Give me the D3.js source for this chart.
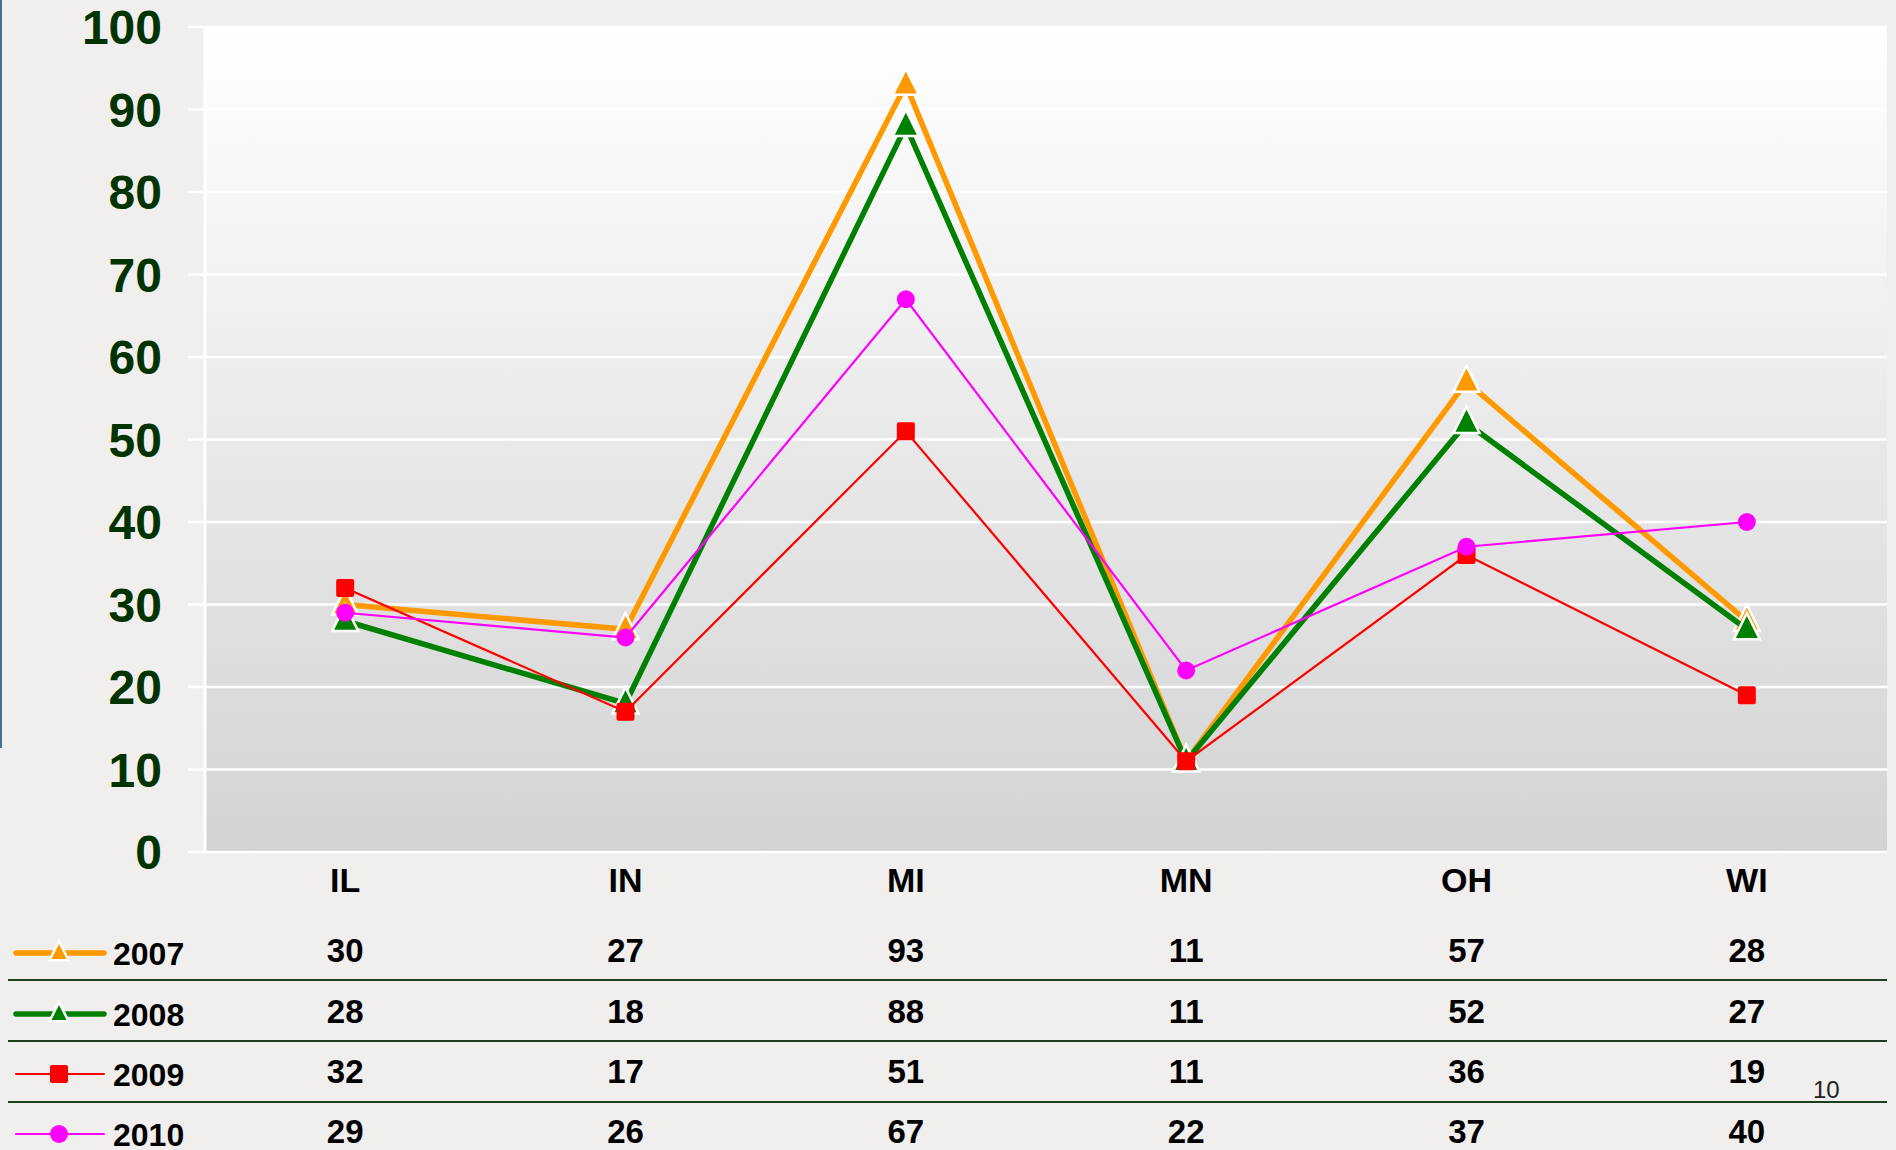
<!DOCTYPE html>
<html><head><meta charset="utf-8">
<script src="https://cdn.jsdelivr.net/npm/d3@7"></script>
<style>html,body{margin:0;padding:0;background:#f0efed;overflow:hidden}svg{display:block}</style>
</head><body>
<script>
const states = ["IL","IN","MI","MN","OH","WI"];
const years = ["2007","2008","2009","2010"];
const v2007 = [30,27,93,11,57,28];
const v2008 = [28,18,88,11,52,27];
const v2009 = [32,17,51,11,36,19];
const v2010 = [29,26,67,22,37,40];
const yTicks = [0,10,20,30,40,50,60,70,80,90,100];
const pageNumber = "10";

(function(){
const series = [
  {name: years[0], values: v2007, color: "#ff9900", width: 5.5, shape: "tri"},
  {name: years[1], values: v2008, color: "#008000", width: 5.5, shape: "tri"},
  {name: years[2], values: v2009, color: "#ff0000", width: 2.2, shape: "sq"},
  {name: years[3], values: v2010, color: "#ff00ff", width: 2.2, shape: "circ"}
];

const W = 1896, H = 1150;
const svg = d3.select("body").append("svg").attr("width", W).attr("height", H);
const font = "'Liberation Sans', Arial, sans-serif";

svg.append("rect").attr("width", W).attr("height", H).attr("fill", "#f0efed");
svg.append("line").attr("x1",1).attr("x2",1).attr("y1",0).attr("y2",748)
  .attr("stroke","#41719c").attr("stroke-width",2);

const pL = 205, pR = 1887, pT = 27, pB = 852;
const x = d3.scaleBand().domain(states).range([pL, pR]);
const y = d3.scaleLinear().domain([0,100]).range([pB, pT]);
const cx = s => x(s) + x.bandwidth()/2;

const defs = svg.append("defs");
const grad = defs.append("linearGradient").attr("id","bg").attr("x1",0).attr("x2",0).attr("y1",0).attr("y2",1);
grad.append("stop").attr("offset","0%").attr("stop-color","#ffffff");
grad.append("stop").attr("offset","100%").attr("stop-color","#d3d3d3");
svg.append("rect").attr("x", pL).attr("y", pT).attr("width", pR-pL).attr("height", pB-pT)
  .attr("fill","url(#bg)");

const ya = svg.append("g").attr("transform",`translate(188,0)`)
  .call(d3.axisLeft(y).tickValues(yTicks).tickSize(0).tickPadding(26).tickFormat(d3.format("d")));
ya.select(".domain").remove();
ya.selectAll("text").attr("font-family", font).attr("font-weight","bold").attr("font-size",48)
  .attr("fill","#003300").attr("dy","0.35em");
svg.append("g").selectAll("line").data(yTicks).join("line")
  .attr("x1",188).attr("x2",pR).attr("y1",d=>y(d)).attr("y2",d=>y(d))
  .attr("stroke","#ffffff").attr("stroke-width",2.5);
svg.append("line").attr("x1",pL).attr("x2",pL).attr("y1",pT).attr("y2",pB)
  .attr("stroke","#ffffff").attr("stroke-width",3);

const xa = svg.append("g").attr("transform",`translate(0,${pB})`)
  .call(d3.axisBottom(x).tickSize(0).tickPadding(16));
xa.select(".domain").remove();
xa.selectAll("text").attr("font-family", font).attr("font-weight","bold").attr("font-size",34)
  .attr("fill","#000").attr("dy","0.71em");

function marker(g, shape, color, size) {
  if (shape === "tri") {
    const s = size;
    g.append("path").attr("d", `M0,${-s*0.62}L${s/2},${s*0.38}L${-s/2},${s*0.38}Z`)
      .attr("fill", color).attr("stroke","#fff").attr("stroke-width",2.5).attr("stroke-linejoin","miter");
  } else if (shape === "sq") {
    g.append("rect").attr("x",-size/2).attr("y",-size/2).attr("width",size).attr("height",size)
      .attr("rx",2).attr("fill",color);
  } else {
    g.append("circle").attr("r",size/2).attr("fill",color);
  }
}

const line = d3.line().x((d,i)=>cx(states[i])).y(d=>y(d));
series.forEach(s => {
  const g = svg.append("g");
  g.append("path").datum(s.values).attr("d", line).attr("fill","none")
    .attr("stroke", s.color).attr("stroke-width", s.width).attr("stroke-linejoin","miter");
  s.values.forEach((v,i) => {
    const m = g.append("g").attr("transform",`translate(${cx(states[i])},${y(v)})`);
    marker(m, s.shape, s.color, s.shape==="tri" ? 26 : 18);
  });
});

const rowBase = [962, 1023, 1083, 1143];
const sepY = [980, 1041, 1102];
svg.append("g").selectAll("line").data(sepY).join("line")
  .attr("x1",8).attr("x2",pR).attr("y1",d=>d).attr("y2",d=>d)
  .attr("stroke","#1f3d1f").attr("stroke-width",2.2);
series.forEach((s, r) => {
  const g = svg.append("g");
  const ly = rowBase[r] - 9;
  g.append("line").attr("x1",16).attr("x2",104).attr("y1",ly).attr("y2",ly)
    .attr("stroke", s.color).attr("stroke-width", s.shape==="tri" ? 5.5 : 2).attr("stroke-linecap","round");
  const m = g.append("g").attr("transform",`translate(59,${ly})`);
  marker(m, s.shape, s.color, s.shape==="tri" ? 19 : 18);
  g.append("text").attr("x",113).attr("y",rowBase[r]+3).text(s.name)
    .attr("font-family",font).attr("font-weight","bold").attr("font-size",32).attr("fill","#000");
  g.selectAll("text.v").data(s.values).join("text").attr("class","v")
    .attr("x",(d,i)=>cx(states[i])).attr("y",rowBase[r]).attr("text-anchor","middle").text(d=>d)
    .attr("font-family",font).attr("font-weight","bold").attr("font-size",33).attr("fill","#000");
});

svg.append("text").attr("x",1813).attr("y",1098).text(pageNumber)
  .attr("font-family",font).attr("font-size",24).attr("fill","#222");
})();
</script>
</body></html>
